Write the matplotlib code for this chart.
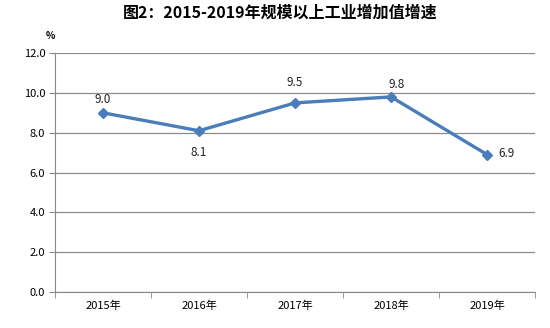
import matplotlib
matplotlib.use("Agg")
import matplotlib.pyplot as plt

plt.rcParams['font.family'] = ['Noto Sans CJK SC', 'DejaVu Sans']

years = ["2015年", "2016年", "2017年", "2018年", "2019年"]
growth = [9.0, 8.1, 9.5, 9.8, 6.9]
# label offsets in points (dx, dy)
label_offsets = [(0, 5), (0, -20), (0, 10), (4, 4), (14, -4)]

fig = plt.figure(figsize=(5.5, 3.28), dpi=100)
ax = fig.add_axes([0.1, 0.11, 0.873, 0.728])

x = list(range(len(years)))
ax.plot(x, growth, color="#4a7ebb", linewidth=2.4, marker="D", markersize=5.5,
        zorder=3)
for xi, v, (dx, dy) in zip(x, growth, label_offsets):
    ax.annotate(f"{v:.1f}", (xi, v), xytext=(dx, dy), textcoords="offset points",
                ha="center", va="bottom", fontsize=8.5, color="#222222")

ax.set_xlim(-0.5, len(years) - 0.5)
ax.set_ylim(0, 12)
ax.set_yticks([0, 2, 4, 6, 8, 10, 12])
ax.set_yticklabels([f"{t:.1f}" for t in [0, 2, 4, 6, 8, 10, 12]], fontsize=8)
ax.set_xticks(x)
ax.set_xticklabels(years, fontsize=8)
ax.set_xticks([i + 0.5 for i in range(-1, len(years))], minor=True)
ax.tick_params(axis="x", which="major", length=0, pad=6)
ax.tick_params(axis="x", which="minor", length=4, color="#888888")
ax.tick_params(axis="y", length=4, color="#888888", pad=3)

ax.grid(axis="y", color="#8c8c8c", linewidth=0.9)
ax.set_axisbelow(True)
for s in ["top", "right"]:
    ax.spines[s].set_visible(False)
for s in ["left", "bottom"]:
    ax.spines[s].set_color("#888888")

fig.text(0.083, 0.88, "%", fontsize=7, fontweight="bold")
fig.suptitle("图2：2015-2019年规模以上工业增加值增速", fontsize=11.5,
             fontweight="bold", x=0.51, y=0.985)

fig.savefig("out.png", dpi=100)
